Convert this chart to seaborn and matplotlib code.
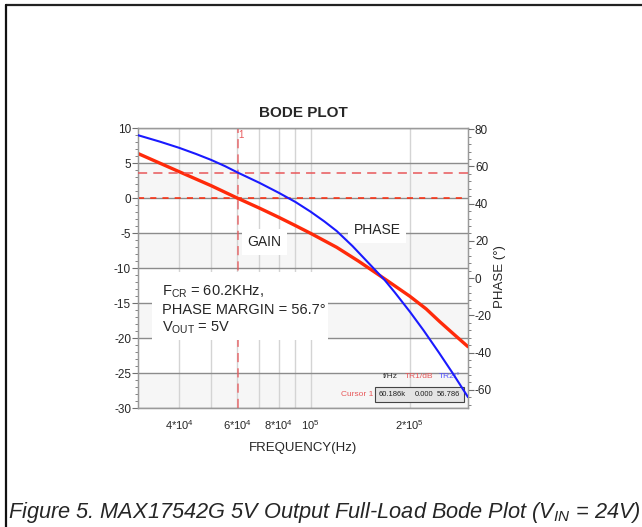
import numpy as np
import pandas as pd
import matplotlib
matplotlib.use('Agg')
import matplotlib.pyplot as plt
import seaborn as sns
from matplotlib.ticker import AutoMinorLocator, MultipleLocator, NullLocator
from matplotlib.patches import Rectangle
from matplotlib.lines import Line2D

# valores (frequencia em Hz)
gain_freq = [3.0e4, 4.0e4, 5.0e4, 6.02e4, 7.0e4, 8.0e4, 9.0e4, 1.0e5, 1.2e5, 1.4e5,
             1.676e5, 2.0e5, 2.24e5, 2.46e5, 2.7e5, 3.0e5]
gain_db = [6.4, 3.8, 1.8, 0.0, -1.4, -2.7, -3.9, -5.0, -7.0, -9.0,
           -11.5, -14.0, -15.8, -17.6, -19.3, -21.2]

phase_freq = [3.0e4, 3.5e4, 4.0e4, 4.5e4, 5.0e4, 5.5e4, 6.02e4, 7.0e4, 8.0e4, 9.0e4,
              1.0e5, 1.1e5, 1.2e5, 1.34e5, 1.475e5, 1.676e5, 1.8e5, 2.0e5, 2.2e5,
              2.45e5, 2.7e5, 3.0e5]
phase_deg = [76.8, 73.3, 70.0, 66.7, 63.5, 60.2, 56.7, 51.2, 45.9, 40.9,
             35.7, 30.5, 25.3, 17.2, 9.4, -1.0, -7.7, -18.1, -28.1,
             -40.1, -51.3, -64.0]

grid_freqs = [4e4, 5e4, 6e4, 7e4, 8e4, 9e4, 1e5, 2e5]
grid_labels = ['4*10$^4$', '', '6*10$^4$', '', '8*10$^4$', '', '10$^5$', '2*10$^5$']

f_cross = 6.02e4
phase_margin = 56.7

cursor_header = ['f/Hz', 'TR1/dB', 'TR2/°']
cursor_values = ['60.186k', '0.000', '56.786']

dados_gain = pd.DataFrame({'freq': gain_freq, 'gain': gain_db})
dados_phase = pd.DataFrame({'freq': phase_freq, 'phase': phase_deg})

sns.set_style('white')
plt.rcParams['font.family'] = ['Liberation Sans', 'DejaVu Sans']
plt.rcParams['axes.unicode_minus'] = False
plt.rcParams['mathtext.fontset'] = 'custom'
plt.rcParams['mathtext.rm'] = 'Liberation Sans'
plt.rcParams['mathtext.it'] = 'Liberation Sans:italic'
plt.rcParams['mathtext.bf'] = 'Liberation Sans:bold'

red = '#ff2a0a'
blue = '#1a1aff'
cursor_red = '#e8585a'

fig = plt.figure(figsize=(6.42, 5.27), dpi=100)
ax = fig.add_axes([0.2150, 0.2252, 0.5140, 0.5313])

# faixas cinza alternadas
for lo in [0, -10, -20, -30]:
    ax.axhspan(lo, lo + 5, color='#f6f6f6', zorder=0, lw=0)

ax.set_xscale('log')
ax.set_xlim(3e4, 3e5)
ax.set_ylim(-30, 10)
ax.set_xticks(grid_freqs, grid_labels)
ax.xaxis.set_minor_locator(NullLocator())
ax.yaxis.set_major_locator(MultipleLocator(5))
ax.yaxis.set_minor_locator(AutoMinorLocator(5))
ax.grid(axis='x', color='#d4d4d4', lw=1.0, zorder=1)
ax.grid(axis='y', color='#8c8c8c', lw=1.0, zorder=1)
ax.set_axisbelow(True)

sns.lineplot(data=dados_gain, x='freq', y='gain', ax=ax, color=red, lw=2.4, zorder=5)

ax.axhline(0, color=red, lw=1.1, ls=(0, (4, 4)), zorder=3)
ax.axvline(f_cross, color=cursor_red, lw=1.1, ls=(0, (6, 4)), zorder=3, alpha=0.85)

ax.tick_params(axis='x', length=0, pad=7, labelsize=8)
ax.tick_params(axis='y', which='major', direction='out', length=4, width=0.8,
               color='#707070', left=True, pad=1, labelsize=8.5)
ax.tick_params(axis='y', which='minor', direction='out', length=2.5, width=0.6,
               color='#707070', left=True)
for s in ax.spines.values():
    s.set_color('#9a9a9a')
    s.set_linewidth(1.0)

ax.set_xlabel('FREQUENCY(Hz)', fontsize=9.5, labelpad=7)
ax.set_ylabel('')
ax.set_title('BODE PLOT', fontsize=11, fontweight='bold', pad=8)

# eixo da fase
ax2 = ax.twinx()
sns.lineplot(data=dados_phase, x='freq', y='phase', ax=ax2, color=blue, lw=1.5, zorder=5)
ax2.set_ylim(-70, 80.5)
ax2.set_xlim(3e4, 3e5)
ax2.yaxis.set_major_locator(MultipleLocator(20))
ax2.yaxis.set_minor_locator(AutoMinorLocator(5))
ax2.axhline(phase_margin, color=cursor_red, lw=1.1, ls=(0, (6, 4)), zorder=3)
ax2.tick_params(axis='y', which='major', direction='out', length=4, width=0.8,
                color='#707070', right=True, pad=1, labelsize=8.5)
ax2.tick_params(axis='y', which='minor', direction='out', length=2.5, width=0.6,
                color='#707070', right=True)
ax2.set_xlabel('')
ax2.set_ylabel('PHASE (°)', fontsize=9.5)
ax2.yaxis.set_label_coords(1.078, 0.469)
for s in ax2.spines.values():
    s.set_color('#9a9a9a')

# textos
ax.text(0.382, 0.594, 'GAIN', transform=ax.transAxes, ha='center', va='center',
        fontsize=10, zorder=6,
        bbox=dict(facecolor='white', edgecolor='none', pad=4))
ax.text(0.724, 0.637, 'PHASE', transform=ax.transAxes, ha='center', va='center',
        fontsize=10, zorder=6,
        bbox=dict(facecolor='white', edgecolor='none', pad=4))

ax.add_patch(Rectangle((0.042, 0.244), 0.533, 0.243, transform=ax.transAxes,
                       facecolor='white', edgecolor='none', zorder=4))
ax.text(0.073, 0.445, 'F$_{\\mathrm{CR}}$ = 60.2KHz,\nPHASE MARGIN = 56.7°\nV$_{\\mathrm{OUT}}$ = 5V',
        transform=ax.transAxes, ha='left', va='top', fontsize=10.5,
        linespacing=1.25, zorder=6)

ax.text(0.312, 0.976, '1', transform=ax.transAxes, ha='center', va='center',
        fontsize=7, color=cursor_red, zorder=6)

# tabela do cursor
for xh, txt, col in zip([0.788, 0.894, 0.976], cursor_header, ['#333333', cursor_red, '#5555ff']):
    ax.text(xh, 0.112, txt, transform=ax.transAxes, ha='right', va='center',
            fontsize=6, color=col, zorder=6)
ax.add_patch(Rectangle((0.718, 0.0225), 0.270, 0.054, transform=ax.transAxes,
                       facecolor='#e4e4e4', edgecolor='#444444', lw=0.8, zorder=6))
for xv, txt in zip([0.812, 0.894, 0.976], cursor_values):
    ax.text(xv, 0.049, txt, transform=ax.transAxes, ha='right', va='center',
            fontsize=5.5, color='#222222', zorder=7)
ax.text(0.712, 0.049, 'Cursor 1', transform=ax.transAxes, ha='right', va='center',
        fontsize=6, color=cursor_red, zorder=7)

# legenda da figura e moldura
fig.text(0.0125, 1 - 518 / 527, 'Figure 5. MAX17542G 5V Output Full-Load Bode Plot (V$_{IN}$ = 24V)',
         ha='left', va='baseline', fontsize=15.7, style='italic')
fig.add_artist(Line2D([6 / 642, 1], [1 - 4.5 / 527, 1 - 4.5 / 527], color='#222222', lw=1.6))
fig.add_artist(Line2D([6 / 642, 6 / 642], [0, 1 - 4.5 / 527], color='#111111', lw=1.6))

fig.savefig('out.png', dpi=100)
